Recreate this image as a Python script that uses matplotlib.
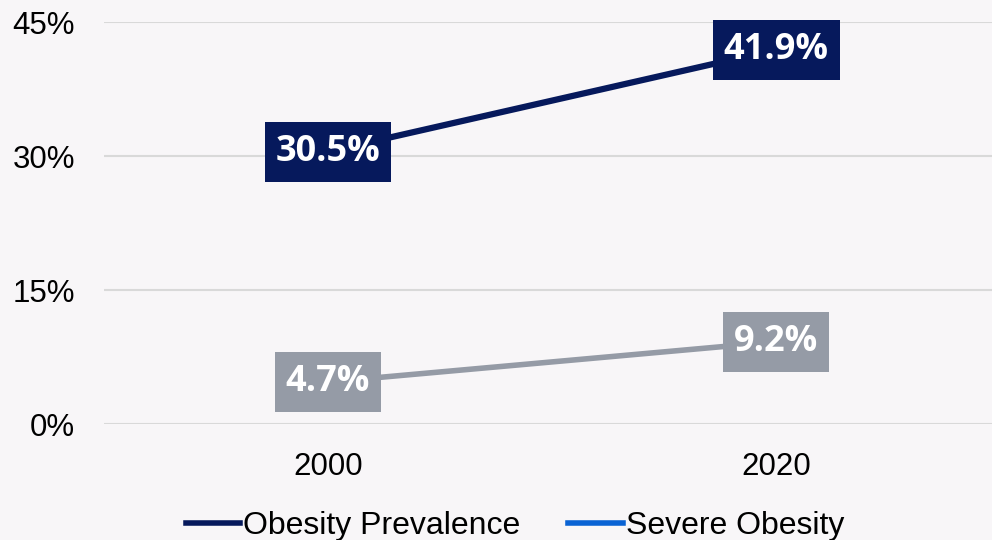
import matplotlib.pyplot as plt
from matplotlib.lines import Line2D
from matplotlib.patches import Rectangle

years = ['2000', '2020']
obesity = [30.5, 41.9]
severe = [4.7, 9.2]
yticks = [0, 15, 30, 45]

bg = '#f8f6f8'
navy = '#06195c'
gray = '#959ba6'
legend_blue = '#0a63d4'

plt.rcParams['font.family'] = ['Liberation Sans', 'DejaVu Sans']

fig = plt.figure(figsize=(9.92, 5.4), dpi=100, facecolor=bg)
ax = fig.add_axes([104 / 992, 116 / 540, 896 / 992, 402 / 540])
ax.set_facecolor(bg)

x = list(range(len(years)))
ax.plot(x, obesity, color=navy, lw=4.5, solid_capstyle='butt', zorder=3)
ax.plot(x, severe, color=gray, lw=4, solid_capstyle='butt', zorder=3)

ax.set_xlim(-0.5, 1.5)
ax.set_ylim(0, 45)
ax.set_yticks(yticks)
ax.set_yticklabels(['%d%%' % t for t in yticks])
ax.set_xticks(x)
ax.set_xticklabels(years)
ax.tick_params(axis='both', length=0, labelsize=22.5, colors='black')
ax.tick_params(axis='y', pad=21)
ax.tick_params(axis='x', pad=20)
ax.grid(axis='y', color='#d9d9d9', lw=1.5, zorder=0)
ax.set_axisbelow(True)
for s in ax.spines.values():
    s.set_visible(False)

# value labels, each on a filled box centred on its point
labels = []
for vals, col in [(obesity, navy), (severe, gray)]:
    for xi, v in zip(x, vals):
        t = ax.text(xi, v, '%.1f%%' % v, ha='center', va='center', color='white',
                    fontsize=26, fontweight='bold', family='Open Sans', zorder=5)
        labels.append((t, xi, v, col))

fig.canvas.draw()
r = fig.canvas.get_renderer()
for t, xi, v, col in labels:
    w = t.get_window_extent(r).width + 22
    h = 60
    px, py = ax.transData.transform((xi, v))
    fig.patches.append(Rectangle((px - w / 2, py - h / 2), w, h, transform=None,
                                 fc=col, ec='none', zorder=4))
    t.remove()
    fig.text(px / fig.bbox.width, py / fig.bbox.height, t.get_text(),
             ha='center', va='center', color='white', fontsize=26,
             fontweight='bold', family='Open Sans', zorder=6)

handles = [Line2D([0], [0], color=navy, lw=4),
           Line2D([0], [0], color=legend_blue, lw=4)]
fig.legend(handles, ['Obesity Prevalence', 'Severe Obesity'],
           loc='lower center', bbox_to_anchor=(0.519, -0.055), ncol=2,
           frameon=False, fontsize=23, handlelength=1.7, handletextpad=0.1,
           columnspacing=1.5)

fig.savefig('out.png', dpi=100, facecolor=bg)
